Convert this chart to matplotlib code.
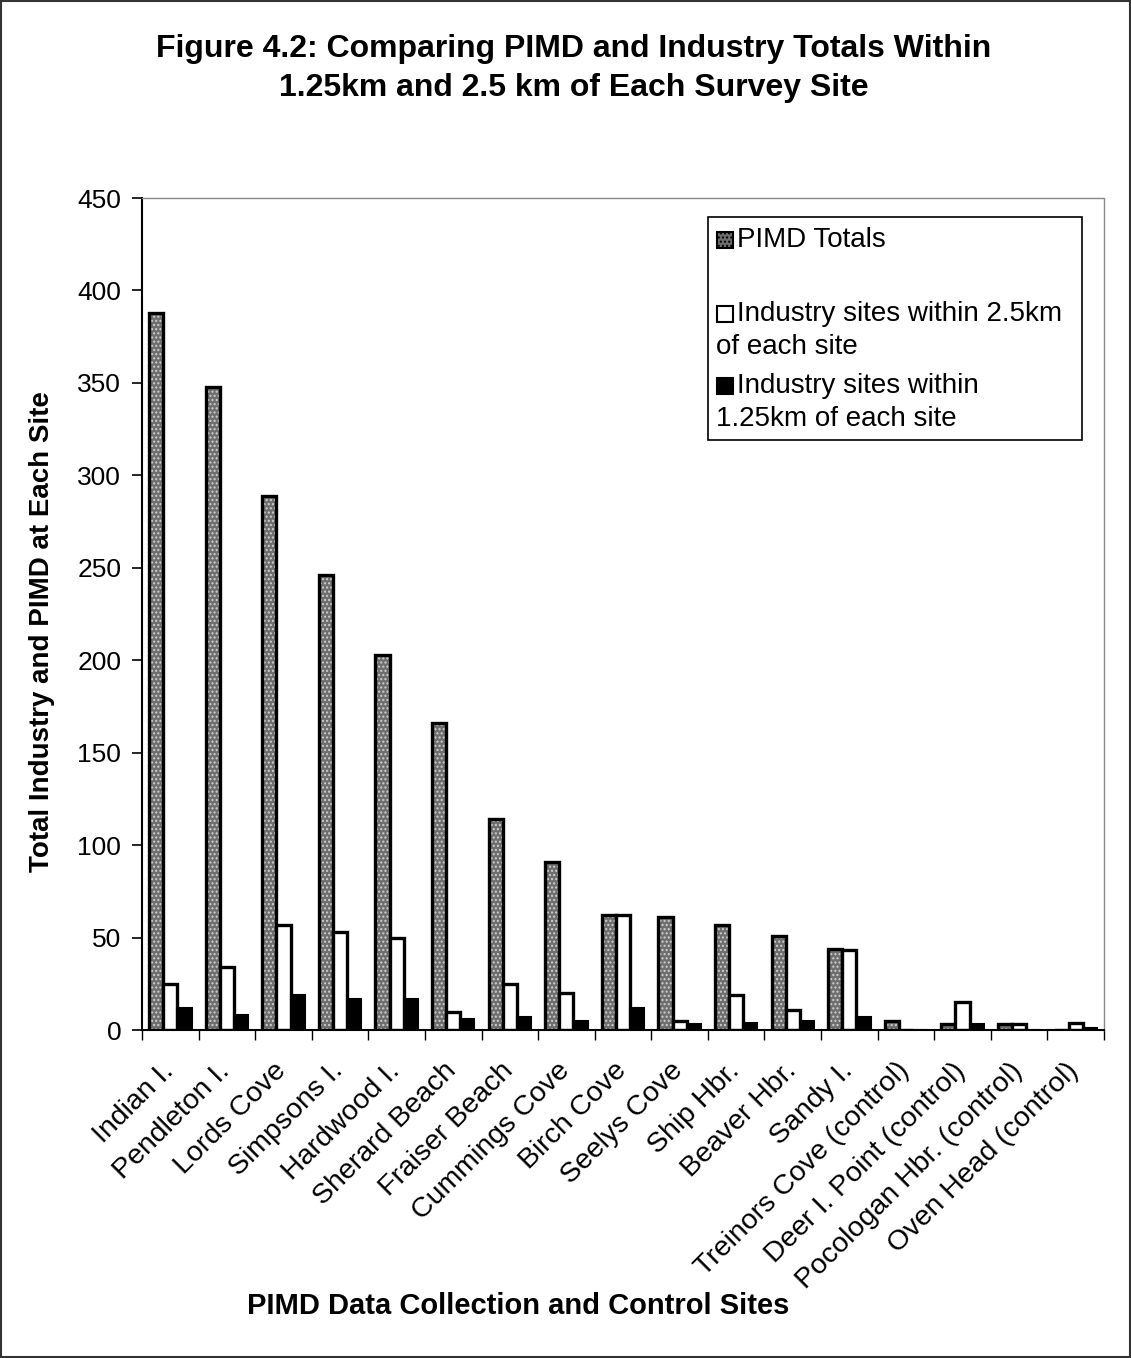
import matplotlib.pyplot as plt
import numpy as np
import matplotlib.transforms as mtransforms
from matplotlib.patches import Rectangle

plt.rcParams['font.family'] = ['Liberation Sans', 'DejaVu Sans']

sites = ['Indian I.', 'Pendleton I.', 'Lords Cove', 'Simpsons I.', 'Hardwood I.',
         'Sherard Beach', 'Fraiser Beach', 'Cummings Cove', 'Birch Cove', 'Seelys Cove',
         'Ship Hbr.', 'Beaver Hbr.', 'Sandy I.', 'Treinors Cove (control)',
         'Deer I. Point (control)', 'Pocologan Hbr. (control)', 'Oven Head (control)']
pimd = [388, 348, 289, 246, 203, 166, 114, 91, 62, 61, 57, 51, 44, 5, 3, 3, 0]
ind_25 = [25, 34, 57, 53, 50, 10, 25, 20, 62, 5, 19, 11, 43, 0, 15, 3, 4]
ind_125 = [12, 8, 19, 17, 17, 6, 7, 5, 12, 3, 4, 5, 7, 0, 3, 0, 1]

W, H = 1131, 1358
fig = plt.figure(figsize=(W / 100, H / 100), dpi=100)
ax = fig.add_axes([142 / W, 1 - 1030 / H, 962 / W, 832 / H])

x = np.arange(len(sites))
w = 0.25
grey = '#6e6e6e'
# PIMD bars: grey stipple with black outline
ax.bar(x - w, pimd, w, color=grey, edgecolor='#d0d0d0', hatch='....', linewidth=0)
ax.bar(x - w, pimd, w, fill=False, edgecolor='black', linewidth=2.4)
ax.bar(x, ind_25, w, color='white', edgecolor='black', linewidth=2.4)
ax.bar(x + w, ind_125, w, color='black', edgecolor='black', linewidth=1.5)

ax.set_xlim(-0.5, len(sites) - 0.5)
ax.set_ylim(0, 450)
ax.set_yticks(np.arange(0, 451, 50))
ax.tick_params(axis='y', labelsize=19, direction='out', length=7, width=1.2, pad=8)

# ticks between categories, labels at centres
ax.set_xticks(np.arange(-0.5, len(sites), 1))
ax.set_xticklabels([])
ax.tick_params(axis='x', which='major', direction='out', length=7, width=1)
ax.set_xticks(x, minor=True)
ax.set_xticklabels(sites, minor=True, rotation=45, ha='right', va='top',
                   rotation_mode='anchor', fontsize=20.5)
ax.tick_params(axis='x', which='minor', length=0, pad=20)
shift = mtransforms.ScaledTranslation(-0.10, 0, fig.dpi_scale_trans)
for lab in ax.get_xticklabels(minor=True):
    lab.set_transform(lab.get_transform() + shift)

for s in ['top', 'right']:
    ax.spines[s].set_color('#888888')
    ax.spines[s].set_linewidth(1)
    ax.spines[s].set_linestyle((0, (2, 1)))
ax.spines['left'].set_linewidth(1.5)
ax.spines['bottom'].set_linewidth(1.5)

# legend box drawn the way the spreadsheet wraps it
def ax_xy(px, py):
    return (px - 142) / 962, (1030 - py) / 832

lx0, ly1 = ax_xy(708, 217)
lx1, ly0 = ax_xy(1082, 440)
ax.add_patch(Rectangle((lx0, ly0), lx1 - lx0, ly1 - ly0, transform=ax.transAxes,
                       facecolor='white', edgecolor='black', linewidth=1.2, zorder=5))
sq = 16 / 962
sqh = 16 / 832
entries = [(240, dict(facecolor=grey, edgecolor='black', hatch='....'),
            ['PIMD Totals']),
           (314, dict(facecolor='white', edgecolor='black'),
            ['Industry sites within 2.5km', 'of each site']),
           (386, dict(facecolor='black', edgecolor='black'),
            ['Industry sites within', '1.25km of each site'])]
for py, style, lines in entries:
    hx, hy = ax_xy(717, py)
    ax.add_patch(Rectangle((hx, hy - sqh / 2), sq, sqh, transform=ax.transAxes,
                           linewidth=1.5, zorder=6, **style))
    tx, ty = ax_xy(737, py)
    ax.text(tx, ty, lines[0], transform=ax.transAxes, fontsize=20, va='center',
            ha='left', zorder=6)
    if len(lines) > 1:
        tx2, ty2 = ax_xy(716, py + 33)
        ax.text(tx2, ty2, lines[1], transform=ax.transAxes, fontsize=20, va='center',
                ha='left', zorder=6)

fig.text(574 / W, 1 - 34 / H, 'Figure 4.2: Comparing PIMD and Industry Totals Within\n'
         '1.25km and 2.5 km of Each Survey Site', ha='center', va='top',
         fontsize=23, fontweight='bold', linespacing=1.37)
fig.text(42 / W, 1 - 632 / H, 'Total Industry and PIMD at Each Site', rotation=90,
         ha='center', va='center', fontsize=20, fontweight='bold')
fig.text(518 / W, 1 - 1306 / H, 'PIMD Data Collection and Control Sites', ha='center',
         va='center', fontsize=21, fontweight='bold')

fig.patches.append(Rectangle((0.001, 0.001), 0.998, 0.998, transform=fig.transFigure,
                             fill=False, edgecolor='#333333', linewidth=1.5))

fig.savefig('out.png', dpi=100)
